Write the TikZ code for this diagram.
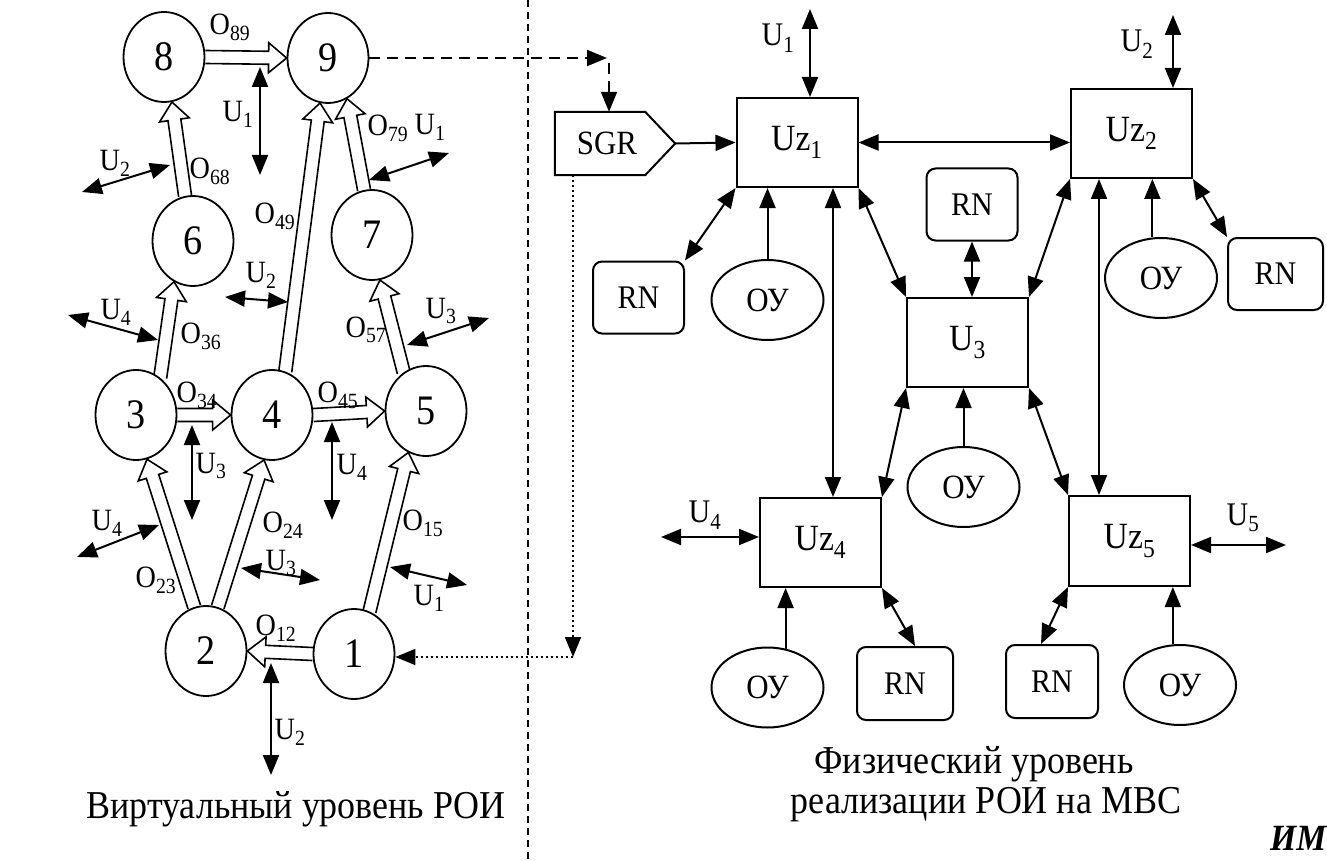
\documentclass[tikz,border=0pt]{standalone}
\usepackage{fontspec}
\setmainfont{Liberation Serif}[FakeStretch=0.91]
\usetikzlibrary{arrows.meta,calc,shapes.geometric}
\pgfdeclarelayer{bg}
\pgfsetlayers{bg,main}
\tikzset{
 mytri/.tip={Triangle[length=20pt,width=16pt]},
 circ/.style={ellipse, draw, fill=white, line width=1.8pt, minimum width=81pt, minimum height=90pt, inner sep=0pt, font=\fontsize{42}{44}\selectfont},
 box/.style={rectangle, draw, line width=2pt, minimum width=121pt, minimum height=89pt, inner sep=0pt, font=\fontsize{37}{39}\selectfont},
 rn/.style={rectangle, rounded corners=9pt, draw, line width=2pt, minimum width=91pt, minimum height=72pt, inner sep=0pt, font=\fontsize{33}{35}\selectfont},
 oy/.style={ellipse, draw, line width=2pt, minimum width=112pt, minimum height=80pt, inner sep=0pt, font=\fontsize{34}{36}\selectfont},
 dbl/.style={line width=2pt, arrows={mytri-mytri}},
 one/.style={line width=2pt, arrows={-mytri}},
 lab/.style={inner sep=0pt, font=\fontsize{31}{33}\selectfont},
 labr/.style={inner sep=0pt, font=\fontsize{33}{35}\selectfont},
 hol/.style={line width=1.6pt, fill=white, line join=miter},
 dsh/.style={line width=2pt, dash pattern=on 11pt off 7pt, arrows={-mytri}},
 dotl/.style={line width=1.8pt, dash pattern=on 1.6pt off 3.4pt, arrows={-mytri}},
 sep/.style={line width=2pt, dash pattern=on 7pt off 5pt},
 title/.style={inner sep=0pt, font=\fontsize{39.5}{42}\selectfont},
}
\newcommand\holarrow[2]{%
 \draw[hol] ($(#1)!6.5pt!90:(#2)$) -- ($(#2)!18pt!(#1)!6.5pt!-90:(#1)$)
   -- ($(#2)!18pt!(#1)!15pt!-90:(#1)$) -- (#2)
   -- ($(#2)!18pt!(#1)!15pt!90:(#1)$) -- ($(#2)!18pt!(#1)!6.5pt!90:(#1)$)
   -- ($(#1)!6.5pt!-90:(#2)$);}
\begin{document}
\begin{tikzpicture}[x=1pt,y=-1pt]
\useasboundingbox (0,0) rectangle (1327,861);
% ---------- virtual level ----------
\node[circ] (n8) at (164,57) {8};
\node[circ] (n9) at (328,58) {9};
\node[circ] (n6) at (193,241) {6};
\node[circ] (n7) at (372,235) {7};
\node[circ] (n3) at (136,415) {3};
\node[circ] (n4) at (272,415) {4};
\node[circ] (n5) at (426,411) {5};
\node[circ] (n2) at (206,651) {2};
\node[circ] (n1) at (354,654) {1};
\begin{pgfonlayer}{bg}
\holarrow{n8.east}{n9.west}
\holarrow{n6.100}{n8.-80}
\holarrow{n4.73}{n9.-100}
\holarrow{n7.100}{n9.-65}
\holarrow{n3.57}{n6.-115}
\holarrow{n5.120}{n7.-80}
\holarrow{n3.east}{n4.west}
\holarrow{n4.east}{n5.west}
\holarrow{n2.105}{n3.-76}
\holarrow{n2.75}{n4.-100}
\holarrow{n1.70}{n5.-113}
\holarrow{n1.west}{n2.east}
\end{pgfonlayer}
% O labels
\node[lab] (o89) at (230,27) {O\textsubscript{89}};
\node[lab] (o68) at (210,171) {O\textsubscript{68}};
\node[lab] (o49) at (275,216) {O\textsubscript{49}};
\node[lab] (o79) at (388,128) {O\textsubscript{79}};
\node[lab] (o36) at (201,336) {O\textsubscript{36}};
\node[lab] (o57) at (366,330) {O\textsubscript{57}};
\node[lab] (o34) at (197,395) {O\textsubscript{34}};
\node[lab] (o45) at (338,395) {O\textsubscript{45}};
\node[lab] (o24) at (283,525) {O\textsubscript{24}};
\node[lab] (o15) at (423,523) {O\textsubscript{15}};
\node[lab] (o23) at (156,580) {O\textsubscript{23}};
\node[lab] (o12) at (276,628) {O\textsubscript{12}};
% U arrows (virtual)
\coordinate (a1) at (260,67);  \coordinate (b1) at (260,175);
\coordinate (a2) at (82,192);  \coordinate (b2) at (170,165);
\coordinate (a3) at (369,180); \coordinate (b3) at (449,153);
\coordinate (a4) at (225,297); \coordinate (b4) at (288,302);
\coordinate (a5) at (68,315);  \coordinate (b5) at (158,340);
\coordinate (a6) at (407,345); \coordinate (b6) at (489,318);
\coordinate (a7) at (192,425); \coordinate (b7) at (192,520);
\coordinate (a8) at (332,422); \coordinate (b8) at (332,520);
\coordinate (a9) at (77,557);  \coordinate (b9) at (159,525);
\coordinate (a10) at (241,568); \coordinate (b10) at (320,580);
\coordinate (a11) at (390,567); \coordinate (b11) at (467,585);
\coordinate (a12) at (271,663); \coordinate (b12) at (271,775);
\foreach \i in {1,...,12} {\draw[dbl] (a\i) -- (b\i);}
\node[lab] (lu1a) at (238,114) {U\textsubscript{1}};
\node[lab] (lu2a) at (115,163) {U\textsubscript{2}};
\node[lab] (lu1b) at (430,127) {U\textsubscript{1}};
\node[lab] (lu2b) at (261,275) {U\textsubscript{2}};
\node[lab] (lu4a) at (116,312) {U\textsubscript{4}};
\node[lab] (lu3a) at (441,311) {U\textsubscript{3}};
\node[lab] (lu3b) at (211,466) {U\textsubscript{3}};
\node[lab] (lu4b) at (352,467) {U\textsubscript{4}};
\node[lab] (lu4c) at (107,523) {U\textsubscript{4}};
\node[lab] (lu3c) at (281,563) {U\textsubscript{3}};
\node[lab] (lu1c) at (429,598) {U\textsubscript{1}};
\node[lab] (lu2c) at (290,732) {U\textsubscript{2}};
\node[title, anchor=base] (tv) at (296,818) {Виртуальный уровень РОИ};
% ---------- separator ----------
\coordinate (st) at (528,0); \coordinate (sb) at (528,861);
\draw[sep] (st) -- (sb);
% ---------- physical level ----------
\node[box] (uz1) at (797,142.5) {\raisebox{4pt}{Uz\textsubscript{1}}};
\node[box] (uz2) at (1131.5,133.5) {\raisebox{4pt}{Uz\textsubscript{2}}};
\node[box] (u3) at (967.5,342.5) {\raisebox{4pt}{U\textsubscript{3}}};
\node[box] (uz4) at (820.5,542.5) {\raisebox{4pt}{Uz\textsubscript{4}}};
\node[box, minimum height=90pt] (uz5) at (1129.5,541) {\raisebox{4pt}{Uz\textsubscript{5}}};
\node[rn] (rn1) at (638.5,297.5) {RN};
\node[rn] (rn2) at (972,204.5) {RN};
\node[rn, minimum width=95pt] (rn3) at (1275.5,274) {RN};
\node[rn, minimum width=96pt, minimum height=73pt] (rn4) at (905,683.5) {RN};
\node[rn, minimum width=92pt, minimum height=73pt] (rn5) at (1052,681.5) {RN};
\node[oy] (oy1) at (767.5,300) {ОУ};
\node[oy] (oy2) at (1161,278) {ОУ};
\node[oy] (oy3) at (963.5,487) {ОУ};
\node[oy] (oy4) at (767.5,687.5) {ОУ};
\node[oy] (oy5) at (1180,685) {ОУ};
\node[minimum width=120pt, minimum height=63pt, inner sep=0pt, font=\fontsize{34}{36}\selectfont] (sgr) at (615,143.5) {SGR\hspace*{16pt}};
\draw[line width=2pt] (sgr.north west) -- ($(sgr.north east)+(-30,0)$) -- (sgr.east) -- ($(sgr.south east)+(-30,0)$) -- (sgr.south west) -- cycle;
% arrows
\coordinate (u1t) at (810,9);
\draw[dbl] (u1t) -- (u1t |- uz1.north);
\node[labr] (lu1r) at (778,38) {U\textsubscript{1}};
\coordinate (u2t) at (1173,15);
\draw[dbl] (u2t) -- (u2t |- uz2.north);
\node[labr] (lu2r) at (1137,44) {U\textsubscript{2}};
\draw[one] (sgr.east) -- (uz1.west);
\draw[dbl] (uz1.east) -- (uz1.east -| uz2.west);
\draw[dbl] (uz1.south west) -- (rn1.north east);
\draw[one] (oy1.north) -- (oy1.north |- uz1.south);
\coordinate (xl) at (833,0);
\draw[dbl] (uz1.south -| xl) -- (uz4.north -| xl);
\draw[dbl] (uz1.south east) -- (u3.north west);
\draw[dbl] (rn2.south) -- (rn2.south |- u3.north);
\draw[dbl] (uz2.south west) -- (u3.north east);
\coordinate (xr) at (1099,0);
\draw[dbl] (uz2.south -| xr) -- (uz5.north -| xr);
\draw[one] (oy2.102) -- (oy2.102 |- uz2.south);
\draw[dbl] (uz2.south east) -- (rn3.north west);
\draw[dbl] (u3.south west) -- (uz4.north east);
\draw[dbl] (u3.south east) -- (uz5.north west);
\draw[one] (oy3.north) -- (oy3.north |- u3.south);
\coordinate (u4l) at (661,537);
\draw[dbl] (u4l) -- (u4l -| uz4.west);
\node[labr] (lu4r) at (705,515) {U\textsubscript{4}};
\coordinate (u5r) at (1286,545);
\draw[dbl] (u5r -| uz5.east) -- (u5r);
\node[labr] (lu5r) at (1243,518) {U\textsubscript{5}};
\draw[one] (oy4.65) -- (oy4.65 |- uz4.south);
\draw[dbl] (uz4.south east) -- ($(rn4.north)+(10,0)$);
\draw[dbl] (uz5.south west) -- ($(rn5.north)+(-11,0)$);
\draw[one] (oy5.100) -- (oy5.100 |- uz5.south);
% dashed and dotted links
\coordinate (dh) at (607,58);
\draw[dsh] (n9.east) -- (dh);
\coordinate (dv) at (609,63);
\draw[dsh] (dv) -- (dv |- sgr.north);
\coordinate (dc) at (573,657);
\draw[dotl] (dc |- sgr.south) -- (dc);
\draw[dotl] (dc) -- (dc -| n1.east);
% texts
\node[title, anchor=base] (tp1) at (974,773) {Физический уровень};
\node[title, anchor=base] (tp2) at (986,813) {реализации РОИ на МВС};
\node[anchor=base west, inner sep=0pt, font=\fontsize{37}{39}\selectfont\bfseries\itshape] (im) at (1270,850) {ИМ};
\end{tikzpicture}
\end{document}
